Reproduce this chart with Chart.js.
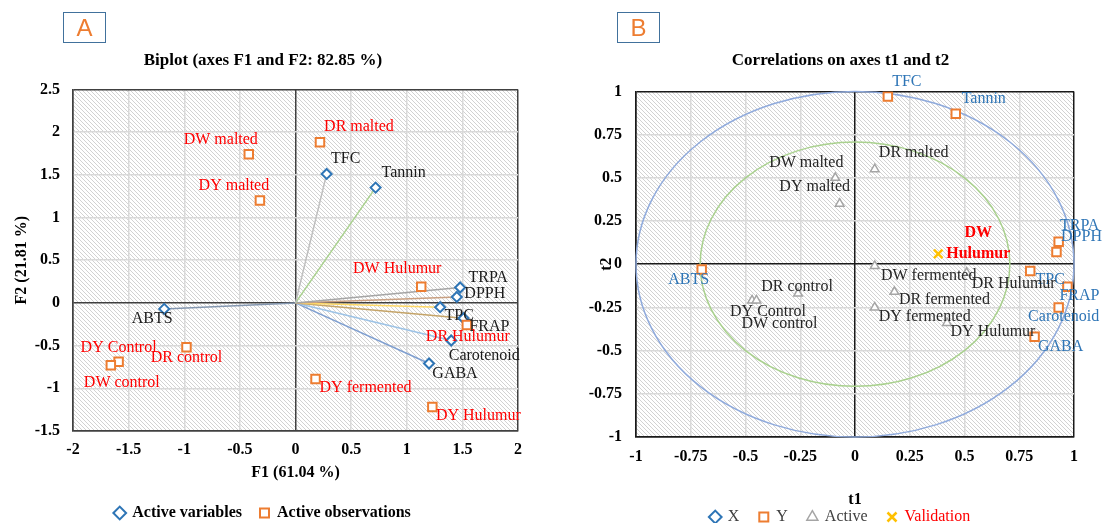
<!DOCTYPE html>
<html>
<head>
<meta charset="utf-8">
<script src="https://cdn.jsdelivr.net/npm/chart.js@4.4.1/dist/chart.umd.min.js"></script>
<style>
html, body { margin: 0; padding: 0; background: #fff; overflow: hidden; }
#wrap { position: relative; width: 1102px; height: 523px; overflow: hidden; }
#cA { position: absolute; left: 0; top: 0; }
#cB { position: absolute; left: 560px; top: 0; }
.tag { position: absolute; top: 12px; width: 41px; height: 29px; border: 1.5px solid #41719c;
  color: #ed7d31; font: 24px "Liberation Sans", Arial, sans-serif; text-align: center; line-height: 30px; }
</style>
</head>
<body>
<div id="wrap">
  <canvas id="cA" width="560" height="531"></canvas>
  <canvas id="cB" width="542" height="535"></canvas>
  <div class="tag" style="left:63px">A</div>
  <div class="tag" style="left:617px">B</div>
</div>
<script>
// ---- panel A : biplot F1 / F2 ----
var varNames = ['TFC', 'Tannin', 'ABTS', 'TRPA', 'DPPH', 'TPC', 'FRAP', 'Carotenoid', 'GABA'];
var varF1 = [0.28, 0.72, -1.18, 1.48, 1.45, 1.30, 1.51, 1.40, 1.20];
var varF2 = [1.51, 1.35, -0.07, 0.18, 0.07, -0.05, -0.18, -0.44, -0.71];
var obsNames = ['DW malted', 'DY malted', 'DR malted', 'DY Control', 'DW control', 'DR control',
  'DW Hulumur', 'DR Hulumur', 'DY fermented', 'DY Hulumur'];
var obsF1 = [-0.42, -0.32, 0.22, -1.59, -1.66, -0.98, 1.13, 1.54, 0.18, 1.23];
var obsF2 = [1.74, 1.20, 1.88, -0.69, -0.73, -0.52, 0.19, -0.26, -0.89, -1.22];
var ticksF1 = [-2, -1.5, -1, -0.5, 0, 0.5, 1, 1.5, 2];
var ticksF2 = [-1.5, -1, -0.5, 0, 0.5, 1, 1.5, 2, 2.5];

// ---- panel B : correlations t1 / t2 ----
var yNames = ['TFC', 'Tannin', 'TRPA', 'DPPH', 'ABTS', 'TPC', 'FRAP', 'Carotenoid', 'GABA'];
var yT1 = [0.15, 0.46, 0.93, 0.92, -0.70, 0.80, 0.97, 0.93, 0.82];
var yT2 = [0.97, 0.87, 0.13, 0.07, -0.03, -0.04, -0.13, -0.25, -0.42];
var actNames = ['DW malted', 'DY malted', 'DR malted', 'DR control', 'DY Control', 'DW control',
  'DW fermented', 'DR Hulumur', 'DR fermented', 'DY fermented', 'DY Hulumur'];
var actT1 = [-0.09, -0.07, 0.09, -0.26, -0.47, -0.45, 0.09, 0.51, 0.18, 0.09, 0.42];
var actT2 = [0.50, 0.35, 0.55, -0.17, -0.21, -0.21, -0.01, -0.05, -0.16, -0.25, -0.34];
var valNames = ['DW Hulumur'];
var valT1 = [0.38];
var valT2 = [0.06];
var ticksT = [-1, -0.75, -0.5, -0.25, 0, 0.25, 0.5, 0.75, 1];
var circleR = [1, 0.707];

// label placement (pixel offsets from the point) and colours
var varLineColors = ['#bfbfbf', '#a9d18e', '#8497b0', '#a5a5a5', '#c9a082', '#ffd966', '#c5a468', '#9dc3e6', '#7f9fd0'];
var offA = {
  'TFC': [19, -15], 'Tannin': [28, -15], 'ABTS': [-12, 10], 'TRPA': [28, -10], 'DPPH': [28, -3],
  'TPC': [19, 9], 'FRAP': [26, 9], 'Carotenoid': [33, 15], 'GABA': [26, 10]
};
var offObsA = {
  'DW malted': [-28, -15], 'DY malted': [-26, -15], 'DR malted': [39, -16], 'DY Control': [0, -14],
  'DW control': [11, 18], 'DR control': [0, 10], 'DW Hulumur': [-24, -18], 'DR Hulumur': [1, 12],
  'DY fermented': [50, 9], 'DY Hulumur': [46, 9]
};
var offYB = {
  'TFC': [19, -15], 'Tannin': [28, -15], 'TRPA': [21, -16], 'DPPH': [25, -15], 'ABTS': [-13, 10],
  'TPC': [20, 9], 'FRAP': [12, 9], 'Carotenoid': [5, 9], 'GABA': [26, 10]
};
var offActB = {
  'DW malted': [-29, -15], 'DY malted': [-25, -17], 'DR malted': [39, -16], 'DR control': [-1, -7],
  'DY Control': [16, 11], 'DW control': [23, 23], 'DW fermented': [54, 10], 'DR Hulumur': [47, 11],
  'DR fermented': [50, 8], 'DY fermented': [50, 9], 'DY Hulumur': [46, 9]
};
var offValB = { 'DW Hulumur': [40, -21] };

var SERIF = '"Liberation Serif", "Times New Roman", serif';

function pts(xs, ys) {
  return xs.map(function (v, i) { return { x: v, y: ys[i] }; });
}

function hatch() {
  var c = document.createElement('canvas');
  c.width = 4; c.height = 4;
  var g = c.getContext('2d');
  g.fillStyle = '#ffffff';
  g.fillRect(0, 0, 4, 4);
  g.strokeStyle = '#d2d2d2';
  g.lineWidth = 1;
  g.beginPath();
  g.moveTo(-1, -1); g.lineTo(5, 5);
  g.moveTo(3, -1); g.lineTo(5, 1);
  g.moveTo(-1, 3); g.lineTo(1, 5);
  g.stroke();
  return g.createPattern(c, 'repeat');
}

var bgPlugin = {
  id: 'hatchBg',
  beforeDraw: function (chart) {
    var a = chart.chartArea, ctx = chart.ctx;
    ctx.save();
    ctx.fillStyle = hatch();
    ctx.fillRect(a.left, a.top, a.right - a.left, a.bottom - a.top);
    ctx.restore();
  }
};

var labelPlugin = {
  id: 'pointLabels',
  afterDatasetsDraw: function (chart) {
    var ctx = chart.ctx;
    chart.data.datasets.forEach(function (ds, i) {
      if (!ds.names) return;
      var meta = chart.getDatasetMeta(i);
      ctx.save();
      ctx.font = ds.labelFont || ('16px ' + SERIF);
      ctx.fillStyle = ds.labelColor;
      ctx.textAlign = 'center';
      ctx.textBaseline = 'middle';
      meta.data.forEach(function (pt, j) {
        var name = ds.names[j];
        var off = ds.offsets[name] || [0, -14];
        var lines = ds.wrap ? name.split(' ') : [name];
        lines.forEach(function (t, k) {
          ctx.fillText(t, pt.x + off[0], pt.y + off[1] + k * 21);
        });
      });
      ctx.restore();
    });
  }
};

function gridColor(min, max, dark) {
  return function (c) {
    var v = c.tick ? c.tick.value : null;
    return (v === 0 || v === min || v === max) ? dark : '#d9d9d9';
  };
}

function axisFont() { return { family: SERIF, size: 16, weight: 'bold' }; }
function plainTick(v) { return String(v); }
function useTicks(list) {
  return function (s) { s.ticks = list.map(function (v) { return { value: v }; }); };
}

// ----- chart A -----
var dsA = [];
varNames.forEach(function (n, i) {
  dsA.push({
    isLine: true, label: n, data: [{ x: 0, y: 0 }, { x: varF1[i], y: varF2[i] }],
    showLine: true, borderColor: varLineColors[i], borderWidth: 1.5, pointRadius: 0, order: 3
  });
});
dsA.push({
  label: 'Active variables', data: pts(varF1, varF2), pointStyle: 'rectRot', pointRadius: 5,
  borderColor: '#2e75b6', backgroundColor: '#ffffff', borderWidth: 2, order: 1,
  names: varNames, offsets: offA, labelColor: '#1a1a1a'
});
dsA.push({
  label: 'Active observations', data: pts(obsF1, obsF2), pointStyle: 'rect', pointRadius: 6,
  borderColor: '#ed7d31', backgroundColor: '#ffffff', borderWidth: 2, order: 0,
  names: obsNames, offsets: offObsA, labelColor: '#ff0000'
});

new Chart(document.getElementById('cA'), {
  type: 'scatter',
  data: { datasets: dsA },
  options: {
    responsive: false,
    animation: false,
    layout: { padding: { left: 8, right: 42, top: 0, bottom: 0 } },
    plugins: {
      title: {
        display: true, text: 'Biplot (axes F1 and F2: 82.85 %)', color: '#000',
        font: { family: SERIF, size: 17, weight: 'bold' }, padding: { top: 50, bottom: 19 }
      },
      legend: {
        position: 'bottom',
        labels: {
          usePointStyle: true, boxWidth: 9, boxHeight: 9, padding: 18, color: '#000',
          font: { family: SERIF, size: 16, weight: 'bold' },
          filter: function (item, data) { return !data.datasets[item.datasetIndex].isLine; },
          sort: function (a, b) { return a.datasetIndex - b.datasetIndex; }
        }
      },
      tooltip: { enabled: false }
    },
    scales: {
      x: {
        type: 'linear', min: -2, max: 2,
        afterBuildTicks: useTicks(ticksF1),
        afterFit: function (s) { s.height = 56; },
        ticks: { padding: 9, color: '#000', font: axisFont(), callback: plainTick },
        grid: { color: gridColor(-2, 2, '#404040'), lineWidth: 1.5, drawTicks: false },
        border: { color: '#404040', width: 1.5 },
        title: { display: true, text: 'F1 (61.04 %)', color: '#000', font: axisFont(), padding: { top: 0, bottom: 5 } }
      },
      y: {
        type: 'linear', min: -1.5, max: 2.5,
        afterBuildTicks: useTicks(ticksF2),
        afterFit: function (s) { s.width = 65; },
        ticks: { padding: 13, color: '#000', font: axisFont(), callback: plainTick },
        grid: { color: gridColor(-1.5, 2.5, '#404040'), lineWidth: 1.5, drawTicks: false },
        border: { color: '#404040', width: 1.5 },
        title: { display: true, text: 'F2 (21.81 %)', color: '#000', font: axisFont(), padding: { top: 4, bottom: 0 } }
      }
    }
  },
  plugins: [bgPlugin, labelPlugin]
});

// ----- chart B -----
var circlePlugin = {
  id: 'corrCircles',
  beforeDatasetsDraw: function (chart) {
    var ctx = chart.ctx, sx = chart.scales.x, sy = chart.scales.y;
    var cx = sx.getPixelForValue(0), cy = sy.getPixelForValue(0);
    var colors = ['#8faadc', '#a9d18e'];
    ctx.save();
    ctx.lineWidth = 1.5;
    circleR.forEach(function (r, i) {
      ctx.strokeStyle = colors[i];
      ctx.beginPath();
      ctx.ellipse(cx, cy, sx.getPixelForValue(r) - cx, cy - sy.getPixelForValue(r), 0, 0, Math.PI * 2);
      ctx.stroke();
    });
    ctx.restore();
  },
  afterDraw: function (chart) {
    var ctx = chart.ctx, a = chart.chartArea;
    ctx.save();
    ctx.translate(47, (a.top + a.bottom) / 2);
    ctx.rotate(-Math.PI / 2);
    ctx.font = 'bold 16px ' + SERIF;
    ctx.fillStyle = '#000';
    ctx.textAlign = 'center';
    ctx.textBaseline = 'middle';
    ctx.fillText('t2', 0, 0);
    ctx.restore();
  }
};

new Chart(document.getElementById('cB'), {
  type: 'scatter',
  data: {
    datasets: [
      { label: 'X', data: [], pointStyle: 'rectRot', pointRadius: 5, borderColor: '#2e75b6',
        backgroundColor: '#ffffff', borderWidth: 2, yAxisID: 'y' },
      { label: 'Y', data: pts(yT1, yT2), pointStyle: 'rect', pointRadius: 6, borderColor: '#ed7d31',
        backgroundColor: '#ffffff', borderWidth: 2, names: yNames, offsets: offYB, labelColor: '#2e75b6', yAxisID: 'y' },
      { label: 'Active', data: pts(actT1, actT2), pointStyle: 'triangle', pointRadius: 5, borderColor: '#a5a5a5',
        backgroundColor: '#ffffff', borderWidth: 1.5, names: actNames, offsets: offActB, labelColor: '#262626', yAxisID: 'y' },
      { label: 'Validation', data: pts(valT1, valT2), pointStyle: 'crossRot', pointRadius: 6, borderColor: '#ffc000',
        backgroundColor: '#ffc000', borderWidth: 2.5, names: valNames, offsets: offValB, labelColor: '#ff0000',
        labelFont: 'bold 16px ' + SERIF, wrap: true, legendColor: '#ff0000', yAxisID: 'y' }
    ]
  },
  options: {
    responsive: false,
    animation: false,
    layout: { padding: { left: 25, right: 6, top: 0, bottom: 0 } },
    plugins: {
      title: {
        display: true, text: 'Correlations on axes t1 and t2', color: '#000',
        font: { family: SERIF, size: 17, weight: 'bold' }, padding: { top: 50, bottom: 21 }
      },
      legend: {
        position: 'bottom',
        labels: {
          usePointStyle: true, boxWidth: 9, boxHeight: 9, padding: 20, color: '#404040',
          font: { family: SERIF, size: 16 },
          generateLabels: function (chart) {
            var items = Chart.defaults.plugins.legend.labels.generateLabels(chart);
            items.forEach(function (it) {
              var ds = chart.data.datasets[it.datasetIndex];
              if (ds.legendColor) it.fontColor = ds.legendColor;
            });
            return items;
          }
        }
      },
      tooltip: { enabled: false }
    },
    scales: {
      x: {
        type: 'linear', min: -1, max: 1,
        afterBuildTicks: useTicks(ticksT),
        afterFit: function (s) { s.height = 52; },
        ticks: { padding: 10, color: '#000', font: axisFont(), callback: plainTick },
        grid: { color: gridColor(-1, 1, '#1a1a1a'), lineWidth: 1.5, drawTicks: false },
        border: { color: '#1a1a1a', width: 1.5 },
        title: { display: true, text: 't1', color: '#000', font: axisFont(), padding: { top: 0, bottom: -20 } }
      },
      y: {
        type: 'linear', min: -1, max: 1, position: 'left',
        afterBuildTicks: useTicks(ticksT),
        afterFit: function (s) { s.width = 51; },
        ticks: { padding: 14, color: '#000', font: axisFont(), callback: plainTick },
        grid: { color: gridColor(-1, 1, '#1a1a1a'), lineWidth: 1.5, drawTicks: false },
        border: { color: '#1a1a1a', width: 1.5 },
        title: { display: false }
      },
      // empty right-hand scale: only reserves room so title and legend sit where they do in the original
      yPad: {
        type: 'linear', position: 'right', min: -1, max: 1,
        afterFit: function (s) { s.width = 22; },
        ticks: { display: false },
        grid: { display: false, drawTicks: false },
        border: { display: false }
      }
    }
  },
  plugins: [bgPlugin, circlePlugin, labelPlugin]
});
</script>
</body>
</html>
